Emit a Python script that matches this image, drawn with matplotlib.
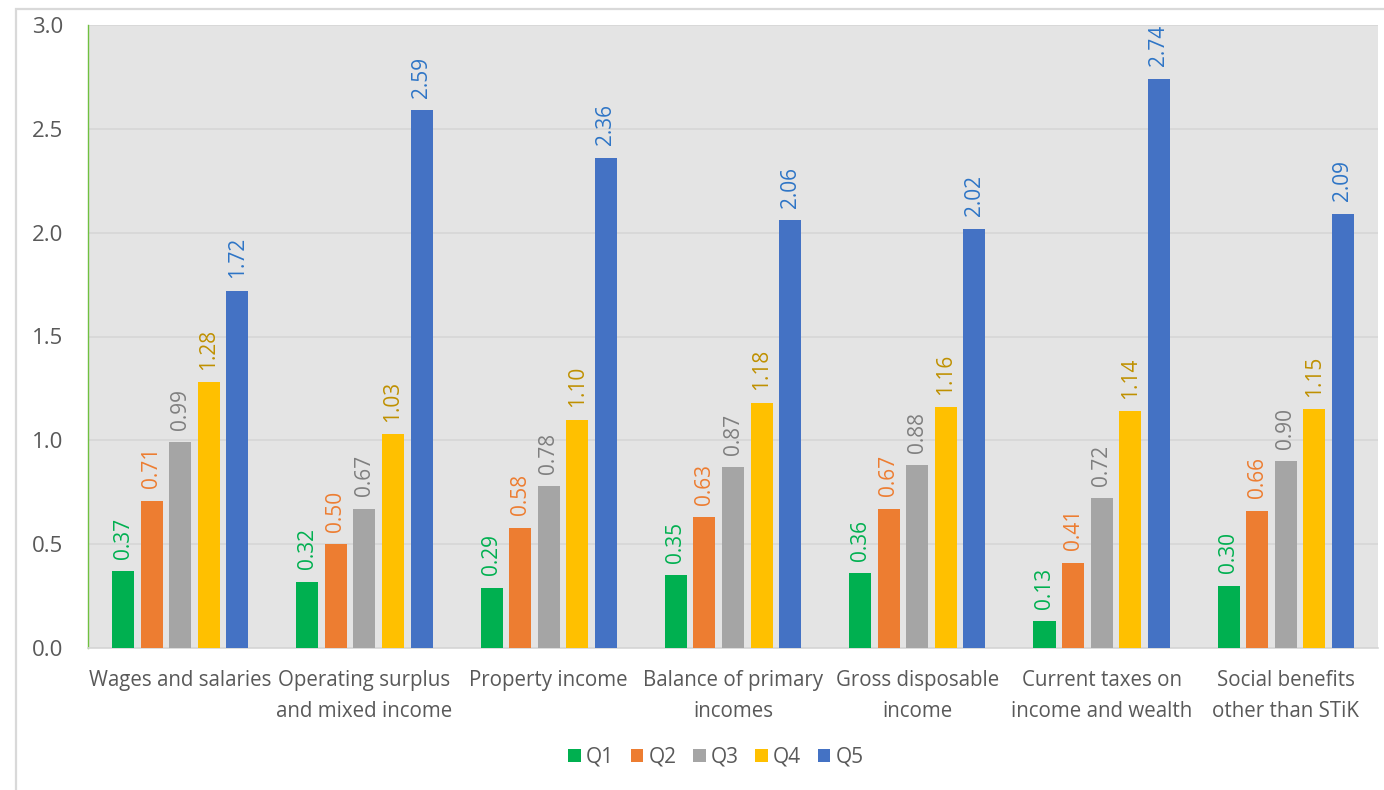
import numpy as np
import matplotlib
matplotlib.use("Agg")
import matplotlib.pyplot as plt
from matplotlib.patches import Rectangle

plt.rcParams['font.family'] = ['Open Sans', 'DejaVu Sans']

categories = ["Wages and salaries", "Operating surplus\nand mixed income",
              "Property income", "Balance of primary\nincomes",
              "Gross disposable\nincome", "Current taxes on\nincome and wealth",
              "Social benefits\nother than STiK"]
series = ["Q1", "Q2", "Q3", "Q4", "Q5"]
q1 = [0.37, 0.32, 0.29, 0.35, 0.36, 0.13, 0.30]
q2 = [0.71, 0.50, 0.58, 0.63, 0.67, 0.41, 0.66]
q3 = [0.99, 0.67, 0.78, 0.87, 0.88, 0.72, 0.90]
q4 = [1.28, 1.03, 1.10, 1.18, 1.16, 1.14, 1.15]
q5 = [1.72, 2.59, 2.36, 2.06, 2.02, 2.74, 2.09]
values = [q1, q2, q3, q4, q5]

bar_colors = ["#00b050", "#ed7d31", "#a5a5a5", "#ffc000", "#4472c4"]
label_colors = ["#00b050", "#ed7d31", "#7f7f7f", "#bf9000", "#2e75c6"]
text_grey = "#595959"

fig = plt.figure(figsize=(13.84, 7.90), dpi=100)
ax = fig.add_axes([88/1384, 1-648/790, (1378-88)/1384, (648-25)/790])
ax.set_facecolor("#e4e4e4")

# outer chart frame (runs off the right and bottom edge)
fig.patches.append(Rectangle((16/1384, -0.05), 1.1, 1-9/790+0.05, transform=fig.transFigure,
                             fill=False, edgecolor="#d9d9d9", linewidth=1.6, zorder=0))

x = np.arange(len(categories))
step = 0.155
width = 0.12
for i, (name, vals) in enumerate(zip(series, values)):
    pos = x + (i - 2) * step
    ax.bar(pos, vals, width, color=bar_colors[i], label=name, zorder=3)
    for px, v in zip(pos, vals):
        ax.annotate(f"{v:.2f}", (px, v), xytext=(0, 9), textcoords="offset points",
                    rotation=90, ha="center", va="bottom", fontsize=15,
                    color=label_colors[i], zorder=4)

ax.set_xlim(-0.5, len(categories) - 0.5)
ax.set_ylim(0, 3.0)
ax.set_yticks(np.arange(0, 3.01, 0.5))
ax.set_yticklabels([f"{t:.1f}" for t in np.arange(0, 3.01, 0.5)])
ax.grid(axis="y", color="#d6d6d6", linewidth=1.2, zorder=0)
ax.set_axisbelow(True)
ax.set_xticks(x)
ax.set_xticklabels(categories, linespacing=1.6)
ax.tick_params(axis="y", length=0, pad=18, labelsize=16, labelcolor=text_grey)
ax.tick_params(axis="x", length=0, pad=16, labelsize=14.8, labelcolor=text_grey)
for s in ["top", "right"]:
    ax.spines[s].set_visible(False)
ax.spines["left"].set_color("#70c040")
ax.spines["left"].set_linewidth(1.0)
ax.spines["bottom"].set_color("#d6d6d6")
ax.spines["bottom"].set_linewidth(1.2)

fig.legend(loc="center", bbox_to_anchor=(716/1384, 1-757/790), ncol=5, frameon=False,
           fontsize=15, handlelength=0.6, handleheight=0.6, handletextpad=0.25,
           columnspacing=0.8, labelcolor=text_grey)

fig.savefig("out.png", dpi=100)
